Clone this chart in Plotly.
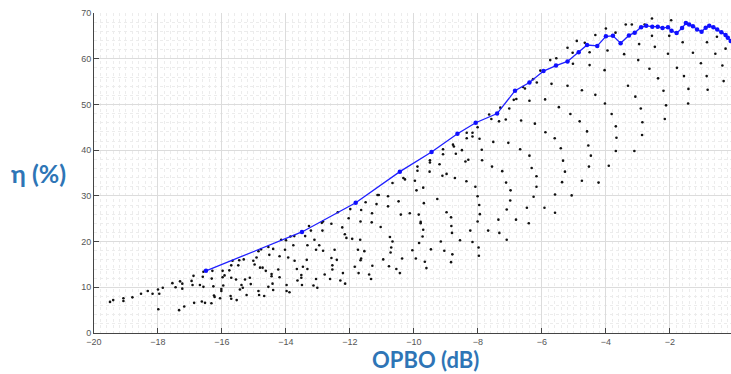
import plotly.graph_objects as go

# Load-pull sweep: efficiency of every measured state vs output power back-off
sweep_x = [
    -19.5, -19.4, -19.08, -19.08, -18.8, -18.53, -18.32, -18.17, -18.0, -17.96, -17.99, -17.85,
    -17.55, -17.45, -17.34, -17.31, -17.24, -17.24, -17.18, -16.95, -16.89, -16.92, -16.87, -16.69,
    -16.63, -16.53, -16.6, -16.58, -16.58, -16.33, -16.3, -16.32, -16.27, -16.25, -16.23, -16.06,
    -16.02, -16.02, -15.98, -15.98, -15.92, -15.96, -15.73, -15.71, -15.77, -15.71, -15.67, -15.71,
    -15.56, -15.54, -15.49, -15.46, -15.44, -15.39, -15.35, -15.32, -15.28, -15.23, -15.13, -15.1,
    -15.02, -14.98, -14.92, -14.86, -14.86, -14.84, -14.81, -14.73, -14.78, -14.68, -14.63, -14.55,
    -14.52, -14.55, -14.45, -14.42, -14.4, -14.4, -14.45, -14.24, -14.2, -14.2, -14.15, -14.03,
    -14.0, -13.98, -13.98, -13.93,
    -13.86, -13.74, -13.77, -13.73, -13.89, -13.66, -13.64, -13.52, -13.52, -13.5, -13.47, -13.4,
    -13.33, -13.35, -13.33, -13.28, -13.22, -13.14, -13.11, -13.06, -13.06, -13.02, -12.96, -12.88,
    -12.84, -12.84, -12.86, -12.79, -12.62, -12.58, -12.55, -12.55, -12.58, -12.48, -12.41, -12.38,
    -12.3, -12.24, -12.22, -12.15, -12.16, -12.11, -12.04, -11.99, -11.93, -11.85, -11.75, -11.73,
    -11.67, -11.68, -11.67, -11.65, -11.65, -11.55, -11.51, -11.4, -11.34, -11.32, -11.3, -11.31,
    -11.17, -11.14, -11.1, -11.04, -10.96, -10.81, -10.81, -10.75, -10.78, -10.73, -10.71, -10.67,
    -10.67, -10.55, -10.44, -10.41, -10.37, -10.48, -10.33, -10.28, -10.13, -10.05, -9.97, -9.94,
    -9.92, -9.85, -9.84, -9.79, -9.79, -9.73, -9.71, -9.71, -9.69, -9.66, -9.61, -9.51,
    -9.47, -9.27, -9.16, -9.11, -9.05, -8.98, -8.98, -8.84, -8.83, -8.81, -8.8, -8.84,
    -8.72, -8.56, -8.36, -8.24, -8.17, -8.08, -8.01, -7.96, -7.94, -8.01, -7.98, -7.97,
    -7.68, -7.36, -7.33, -7.24, -7.1,
    -6.17, -7.12, -6.17, -5.37, -4.75, -4.23, -6.98, -6.26, -5.59, -5.07, -6.99, -6.47,
    -5.92, -7.1, -5.59, -6.81, -6.41,
    -9.89, -9.89, -9.5, -9.5, -9.2, -9.09, -9.09, -8.78, -8.75, -8.69, -8.5, -8.39,
    -8.3, -8.35, -8.35, -8.17, -8.17, -7.95, -8.01, -7.88, -7.87, -7.65, -7.58, -7.52,
    -7.56, -7.34, -7.3, -7.05, -7.02,
    -7.13, -6.88, -6.8, -6.68, -6.59, -6.53, -6.65, -6.39, -6.39, -6.32, -6.28, -6.22,
    -6.16, -6.05, -5.9, -5.89, -5.74, -5.7, -5.6, -5.55, -5.47, -5.41, -5.34, -5.28,
    -5.2, -5.2, -5.11, -5.04, -5.03, -4.91, -4.82, -4.75, -4.66, -4.59, -4.55, -4.51,
    -4.51, -4.47, -4.53, -4.33, -4.33, -4.04, -4.03, -4.0, -3.95, -3.82, -3.69, -3.67,
    -3.69, -3.91, -3.7, -3.43, -3.38, -3.31, -3.19, -3.08, -3.11, -2.96, -2.99, -2.91,
    -2.86, -2.87, -2.79, -2.64, -2.56, -2.56, -2.47, -2.37, -2.2, -2.12, -2.16, -2.06,
    -2.02, -1.96, -1.78, -1.6, -1.56, -1.42, -1.43, -1.28, -1.03, -0.84, -0.85, -0.82,
    -0.58, -0.53, -0.36, -0.32, -0.26,
]
sweep_y = [
    6.8, 7.2, 7.6, 7.0, 7.8, 8.6, 9.2, 8.6, 9.5, 8.6, 5.2, 9.9,
    10.9, 10.0, 5.0, 11.3, 10.8, 9.7, 5.8, 11.4, 12.5, 10.5, 6.6, 10.5,
    6.9, 6.6, 12.3, 13.4, 10.1, 6.5, 13.6, 11.9, 10.2, 8.2, 7.9, 7.6,
    9.6, 9.2, 12.2, 13.6, 12.6, 10.4, 8.1, 7.5, 13.7, 14.8, 15.8, 12.1,
    11.7, 7.2, 14.8, 15.9, 9.5, 10.5, 9.9, 16.1, 11.7, 8.3, 12.1, 10.7,
    15.8, 15.0, 16.5, 17.9, 9.2, 8.3, 14.3, 14.3, 18.3, 8.1, 13.6, 18.8,
    17.1, 10.1, 12.4, 10.8, 18.4, 9.4, 12.9, 13.9, 12.2, 16.8, 20.4, 18.2,
    20.3, 10.5, 9.2, 16.5,
    21.1, 21.2, 19.2, 15.8, 8.9, 14.0, 11.5, 12.7, 12.1, 10.5, 14.5, 21.2,
    19.2, 16.0, 14.0, 23.4, 22.4, 10.4, 20.4, 18.2, 11.8, 9.9, 19.2, 24.1,
    24.4, 18.0, 22.4, 12.8, 11.8, 23.9, 14.8, 13.9, 16.4, 18.2, 16.0, 26.4,
    11.5, 23.1, 13.1, 10.8, 21.6, 20.8, 25.1, 27.1, 20.6, 14.5, 18.2, 13.1,
    24.4, 20.4, 15.9, 16.3, 26.9, 17.9, 28.6, 12.8, 11.8, 24.2, 14.7, 26.2,
    28.2, 30.2, 30.2, 23.2, 16.1, 29.9, 27.7, 21.0, 14.6, 17.6, 18.7, 20.0,
    32.8, 14.0, 13.1, 25.9, 16.3, 28.8, 33.9, 33.6, 26.2, 18.1, 33.3, 16.3,
    31.2, 25.9, 19.7, 24.3, 24.0, 21.1, 31.8, 22.6, 28.4, 15.6, 14.2, 35.3,
    18.3, 29.3, 20.0, 34.4, 18.0, 34.8, 26.4, 25.3, 23.4, 21.9, 17.2, 15.5,
    33.9, 20.3, 33.2, 22.4, 19.9, 32.0, 29.9, 28.0, 26.0, 24.4, 18.7, 16.9,
    22.4, 24.8, 21.9, 35.4, 20.4,
    34.3, 32.9, 32.0, 33.0, 33.3, 32.9, 31.2, 29.8, 30.3, 30.1, 29.0, 27.4,
    27.4, 27.0, 26.3, 24.8, 24.0,
    36.4, 35.5, 37.8, 37.3, 36.9, 40.2, 39.1, 41.2, 40.8, 39.2, 40.0, 37.5,
    37.9, 43.8, 42.6, 43.0, 43.8, 42.5, 45.0, 40.1, 37.8, 47.8, 46.8, 41.8,
    36.4, 46.3, 49.3, 41.6, 49.1,
    46.7, 51.0, 51.2, 40.2, 53.8, 53.5, 46.5, 38.8, 50.8, 36.1, 55.5, 45.8,
    54.8, 57.4, 51.1, 43.9, 59.7, 54.5, 42.6, 60.1, 49.4, 40.4, 37.7, 35.3,
    62.4, 54.1, 47.9, 61.3, 58.9, 63.9, 46.3, 53.1, 63.5, 44.1, 41.0, 61.4,
    58.6, 38.8, 36.4, 65.2, 52.1, 57.5, 50.2, 66.6, 61.8, 47.9, 45.2, 42.7,
    39.8, 36.6, 65.7, 61.0, 67.5, 54.1, 67.5, 51.7, 39.8, 63.2, 59.7, 49.1,
    46.1, 43.3, 67.5, 57.8, 68.8, 65.0, 62.6, 55.7, 53.0, 49.8, 46.8, 61.1,
    65.0, 68.4, 58.0, 63.6, 56.2, 53.4, 50.2, 61.3, 59.0, 63.6, 56.2, 53.2,
    61.1, 64.8, 58.5, 55.1, 62.2,
]

# Best-efficiency envelope across the sweep
envelope_x = [
    -16.5, -13.5, -11.82, -10.44, -9.45, -8.64, -8.07, -7.4, -6.84, -6.39, -5.95, -5.56,
    -5.2, -4.85, -4.59, -4.27, -4.0, -3.78, -3.54, -3.28, -3.1, -2.9, -2.74, -2.55,
    -2.38, -2.23, -2.06, -1.95, -1.79, -1.62, -1.5, -1.4, -1.28, -1.15, -1.01, -0.88,
    -0.77, -0.64, -0.52, -0.39, -0.26, -0.19, -0.1,
]
envelope_y = [
    13.6, 22.1, 28.5, 35.3, 39.6, 43.6, 46.0, 48.0, 53.0, 54.8, 57.3, 58.5,
    59.4, 61.4, 63.0, 62.8, 64.9, 65.0, 63.4, 65.1, 65.7, 66.9, 67.2, 67.0,
    67.0, 66.7, 66.9, 66.1, 65.6, 66.7, 67.8, 67.5, 67.1, 66.4, 65.9, 66.8,
    67.2, 66.9, 66.4, 65.8, 65.2, 64.6, 63.9,
]

x_ticks = [-20, -18, -16, -14, -12, -10, -8, -6, -4, -2, 0]
y_ticks = [0, 10, 20, 30, 40, 50, 60, 70]

title_blue = "#2E75B6"
tick_font = dict(family="Liberation Sans, Arial, sans-serif", size=9, color="#555555")

fig = go.Figure()
fig.add_trace(go.Scatter(
    x=sweep_x, y=sweep_y, mode="markers",
    marker=dict(color="#111111", size=2.6),
    showlegend=False, hoverinfo="x+y",
))
fig.add_trace(go.Scatter(
    x=envelope_x, y=envelope_y, mode="lines+markers",
    line=dict(color="#1f1fff", width=1.3),
    marker=dict(color="#1010ff", size=4.5),
    showlegend=False,
))

axis_common = dict(
    showgrid=True, gridcolor="#dcdcdc", gridwidth=1,
    zeroline=False, showline=True, linecolor="#444444", linewidth=1,
    ticks="inside", ticklen=5, tickcolor="#444444",
    tickfont=tick_font,
)

fig.update_xaxes(
    range=[-20, -0.09], tickvals=x_ticks,
    minor=dict(dtick=0.2, showgrid=True, gridcolor="#ececec", griddash="dot", gridwidth=1),
    **axis_common,
)
fig.update_yaxes(
    range=[0, 70], tickvals=y_ticks,
    minor=dict(dtick=2, showgrid=True, gridcolor="#ececec", griddash="dot", gridwidth=1),
    **axis_common,
)

fig.add_annotation(
    text="η (%)", xref="paper", yref="paper", x=-0.087, y=0.50,
    xanchor="center", yanchor="middle", showarrow=False,
    font=dict(family="Lato, Open Sans, sans-serif", size=25, color=title_blue, weight="bold"),
)
fig.add_annotation(
    text="OPBO (dB)", xref="paper", yref="paper", x=0.52, y=-0.035,
    xanchor="center", yanchor="top", showarrow=False,
    font=dict(family="Lato, Open Sans, sans-serif", size=22, color=title_blue, weight="bold"),
)

fig.update_layout(
    width=731, height=374,
    margin=dict(l=94, r=0, t=13, b=41),
    paper_bgcolor="white", plot_bgcolor="white",
)

fig.write_html("out.html")
